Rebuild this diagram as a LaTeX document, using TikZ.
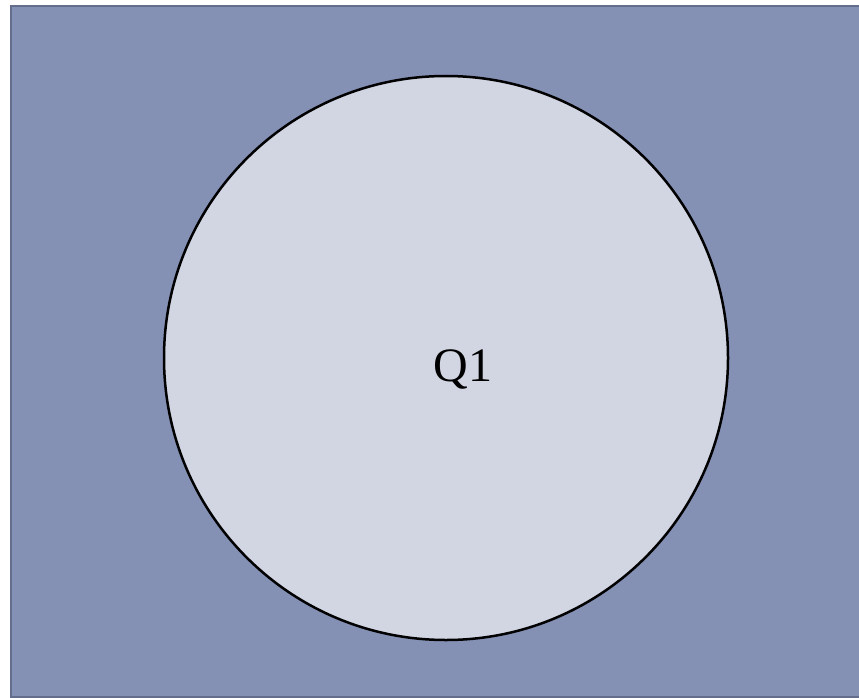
\documentclass[tikz,border=0pt]{standalone}
\usepackage{fontspec}
\setmainfont{Liberation Serif}
\usetikzlibrary{positioning}

\definecolor{outerfill}{HTML}{8490B4}
\definecolor{outerline}{HTML}{646E8C}
\definecolor{innerfill}{HTML}{D2D6E2}

\begin{document}
\begin{tikzpicture}[x=1pt, y=-1pt,
    universe/.style={draw=outerline, line width=2pt, fill=outerfill},
    setcircle/.style={draw=black, line width=2.5pt, fill=innerfill, circle, minimum size=564pt, inner sep=0pt},
    label/.style={font=\fontsize{48}{56}\selectfont, inner sep=0pt},
]
\useasboundingbox (0,0) rectangle (859,698);

% Universe
\node[universe, rectangle, minimum width=852pt, minimum height=691pt, inner sep=0pt, anchor=north west] (U) at (10,5) {};

% Set Q1
\node[setcircle] (Q1) at (446,358) {};
\node[label] (q1label) at (463,369) {Q1};

\end{tikzpicture}
\end{document}
